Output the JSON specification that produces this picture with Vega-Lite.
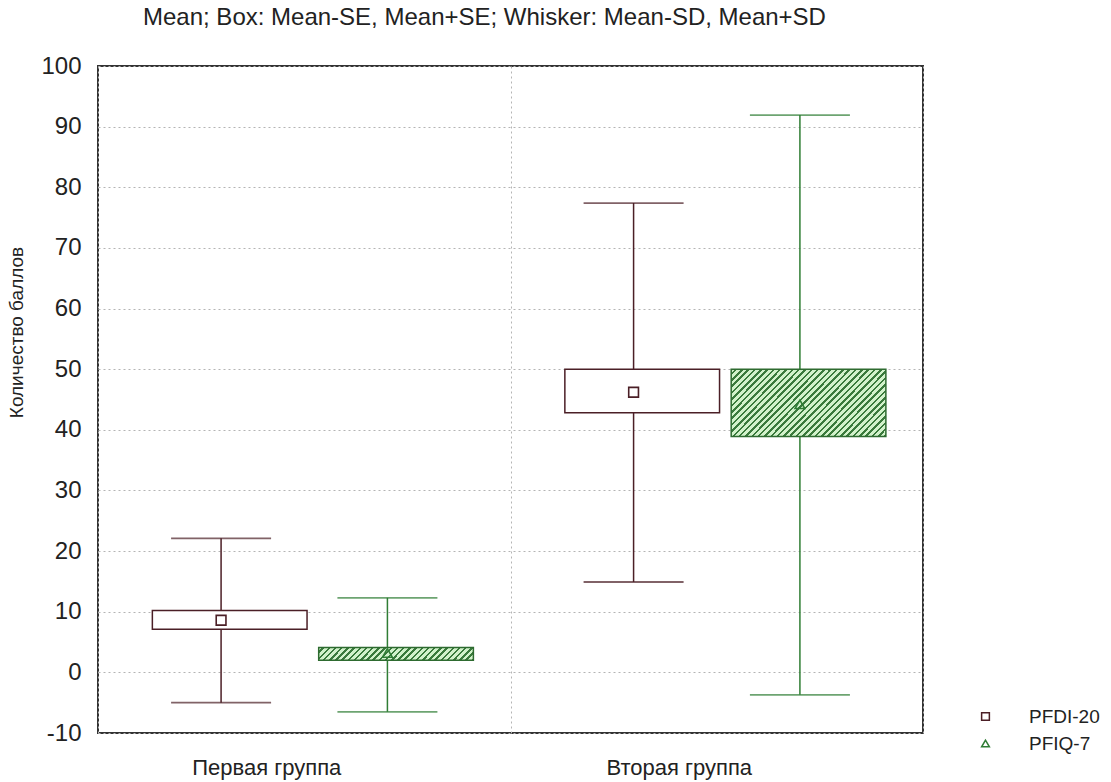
{
  "$schema": "https://vega.github.io/schema/vega-lite/v6.json",
  "width": 825,
  "height": 667,
  "autosize": {"type": "none"},
  "padding": {"left": 98, "top": 66, "right": 188, "bottom": 49},
  "background": "white",
  "config": {
    "font": "Liberation Sans",
    "view": {"stroke": "#333333", "strokeWidth": 2},
    "axis": {"labelColor": "#222222", "titleColor": "#222222", "labelFont": "Liberation Sans", "titleFont": "Liberation Sans"}
  },
  "title": {
    "text": "Mean; Box: Mean-SE, Mean+SE; Whisker: Mean-SD, Mean+SD",
    "anchor": "start",
    "frame": "group",
    "dx": 45,
    "offset": 24,
    "fontSize": 24,
    "fontWeight": "normal",
    "color": "#222222"
  },
  "data": {
    "values": [
      {"group": "Первая группа", "series": "PFDI-20", "mean": 8.6, "se_lo": 7.1, "se_hi": 10.2, "sd_lo": -5.0, "sd_hi": 22.1},
      {"group": "Первая группа", "series": "PFIQ-7", "mean": 3.2, "se_lo": 2.0, "se_hi": 4.1, "sd_lo": -6.5, "sd_hi": 12.3},
      {"group": "Вторая группа", "series": "PFDI-20", "mean": 46.2, "se_lo": 42.8, "se_hi": 50.0, "sd_lo": 14.9, "sd_hi": 77.4},
      {"group": "Вторая группа", "series": "PFIQ-7", "mean": 44.2, "se_lo": 38.9, "se_hi": 50.0, "sd_lo": -3.7, "sd_hi": 91.9}
    ]
  },
  "encoding": {
    "x": {
      "field": "group",
      "type": "nominal",
      "sort": ["Первая группа", "Вторая группа"],
      "scale": {"paddingInner": 0, "paddingOuter": 0},
      "axis": {
        "title": null,
        "labelAngle": 0,
        "labelFontSize": 22,
        "labelPadding": 24,
        "labelOffset": -38,
        "domain": false,
        "ticks": false,
        "grid": true,
        "tickBand": "extent",
        "gridColor": "#b4b4b4",
        "gridDash": [2, 3],
        "gridWidth": 1
      }
    },
    "xOffset": {
      "field": "series",
      "type": "nominal",
      "scale": {"domain": ["PFDI-20", "PFIQ-7"], "paddingInner": 0, "paddingOuter": 0.24}
    }
  },
  "layer": [
    {
      "mark": {"type": "rule", "strokeWidth": 1.5},
      "encoding": {
        "y": {
          "field": "sd_lo",
          "type": "quantitative",
          "scale": {"domain": [-10, 100], "nice": false, "zero": false},
          "axis": {
            "values": [-10, 0, 10, 20, 30, 40, 50, 60, 70, 80, 90, 100],
            "labelExpr": "'' + datum.value",
            "title": "Количество баллов",
            "titleFontSize": 19,
            "titleFontWeight": "normal",
            "titleAnchor": "middle",
            "titleY": 266,
            "titleX": -72,
            "labelFontSize": 24,
            "labelPadding": 17,
            "domain": false,
            "ticks": false,
            "grid": true,
            "gridColor": "#b4b4b4",
            "gridDash": [2, 3],
            "gridWidth": 1
          }
        },
        "y2": {"field": "sd_hi"},
        "color": {
          "field": "series",
          "type": "nominal",
          "scale": {"domain": ["PFIQ-7", "PFDI-20"], "range": ["#2f7d34", "#4b1f26"]},
          "legend": null
        }
      }
    },
    {
      "mark": {"type": "tick", "size": 100, "thickness": 1.8},
      "encoding": {
        "y": {"field": "sd_lo", "type": "quantitative"},
        "color": {"field": "series", "type": "nominal", "legend": null}
      }
    },
    {
      "mark": {"type": "tick", "size": 100, "thickness": 1.8},
      "encoding": {
        "y": {"field": "sd_hi", "type": "quantitative"},
        "color": {"field": "series", "type": "nominal", "legend": null}
      }
    },
    {
      "transform": [{"filter": "datum.series === 'PFDI-20'"}],
      "mark": {"type": "bar", "width": {"band": 0.93}, "fill": "white", "stroke": "#4b1f26", "strokeWidth": 1.5},
      "encoding": {
        "y": {"field": "se_lo", "type": "quantitative"},
        "y2": {"field": "se_hi"}
      }
    },
    {
      "transform": [{"filter": "datum.series === 'PFIQ-7' && datum.group === 'Первая группа'"}],
      "mark": {
        "type": "bar",
        "width": {"band": 0.93},
        "stroke": "#2e6b30",
        "strokeWidth": 1.5,
        "fill": {
          "gradient": "linear",
          "x1": 0, "y1": 0, "x2": 1.0747, "y2": 0.0881,
          "stops": [
            {"offset": 0, "color": "#d2f2cb"}, {"offset": 0.0222, "color": "#d2f2cb"}, {"offset": 0.0222, "color": "#3a7a3c"}, {"offset": 0.0370, "color": "#3a7a3c"},
            {"offset": 0.0370, "color": "#d2f2cb"}, {"offset": 0.0593, "color": "#d2f2cb"}, {"offset": 0.0593, "color": "#3a7a3c"}, {"offset": 0.0741, "color": "#3a7a3c"},
            {"offset": 0.0741, "color": "#d2f2cb"}, {"offset": 0.0963, "color": "#d2f2cb"}, {"offset": 0.0963, "color": "#3a7a3c"}, {"offset": 0.1111, "color": "#3a7a3c"},
            {"offset": 0.1111, "color": "#d2f2cb"}, {"offset": 0.1333, "color": "#d2f2cb"}, {"offset": 0.1333, "color": "#3a7a3c"}, {"offset": 0.1481, "color": "#3a7a3c"},
            {"offset": 0.1481, "color": "#d2f2cb"}, {"offset": 0.1704, "color": "#d2f2cb"}, {"offset": 0.1704, "color": "#3a7a3c"}, {"offset": 0.1852, "color": "#3a7a3c"},
            {"offset": 0.1852, "color": "#d2f2cb"}, {"offset": 0.2074, "color": "#d2f2cb"}, {"offset": 0.2074, "color": "#3a7a3c"}, {"offset": 0.2222, "color": "#3a7a3c"},
            {"offset": 0.2222, "color": "#d2f2cb"}, {"offset": 0.2444, "color": "#d2f2cb"}, {"offset": 0.2444, "color": "#3a7a3c"}, {"offset": 0.2593, "color": "#3a7a3c"},
            {"offset": 0.2593, "color": "#d2f2cb"}, {"offset": 0.2815, "color": "#d2f2cb"}, {"offset": 0.2815, "color": "#3a7a3c"}, {"offset": 0.2963, "color": "#3a7a3c"},
            {"offset": 0.2963, "color": "#d2f2cb"}, {"offset": 0.3185, "color": "#d2f2cb"}, {"offset": 0.3185, "color": "#3a7a3c"}, {"offset": 0.3333, "color": "#3a7a3c"},
            {"offset": 0.3333, "color": "#d2f2cb"}, {"offset": 0.3556, "color": "#d2f2cb"}, {"offset": 0.3556, "color": "#3a7a3c"}, {"offset": 0.3704, "color": "#3a7a3c"},
            {"offset": 0.3704, "color": "#d2f2cb"}, {"offset": 0.3926, "color": "#d2f2cb"}, {"offset": 0.3926, "color": "#3a7a3c"}, {"offset": 0.4074, "color": "#3a7a3c"},
            {"offset": 0.4074, "color": "#d2f2cb"}, {"offset": 0.4296, "color": "#d2f2cb"}, {"offset": 0.4296, "color": "#3a7a3c"}, {"offset": 0.4444, "color": "#3a7a3c"},
            {"offset": 0.4444, "color": "#d2f2cb"}, {"offset": 0.4667, "color": "#d2f2cb"}, {"offset": 0.4667, "color": "#3a7a3c"}, {"offset": 0.4815, "color": "#3a7a3c"},
            {"offset": 0.4815, "color": "#d2f2cb"}, {"offset": 0.5037, "color": "#d2f2cb"}, {"offset": 0.5037, "color": "#3a7a3c"}, {"offset": 0.5185, "color": "#3a7a3c"},
            {"offset": 0.5185, "color": "#d2f2cb"}, {"offset": 0.5407, "color": "#d2f2cb"}, {"offset": 0.5407, "color": "#3a7a3c"}, {"offset": 0.5556, "color": "#3a7a3c"},
            {"offset": 0.5556, "color": "#d2f2cb"}, {"offset": 0.5778, "color": "#d2f2cb"}, {"offset": 0.5778, "color": "#3a7a3c"}, {"offset": 0.5926, "color": "#3a7a3c"},
            {"offset": 0.5926, "color": "#d2f2cb"}, {"offset": 0.6148, "color": "#d2f2cb"}, {"offset": 0.6148, "color": "#3a7a3c"}, {"offset": 0.6296, "color": "#3a7a3c"},
            {"offset": 0.6296, "color": "#d2f2cb"}, {"offset": 0.6519, "color": "#d2f2cb"}, {"offset": 0.6519, "color": "#3a7a3c"}, {"offset": 0.6667, "color": "#3a7a3c"},
            {"offset": 0.6667, "color": "#d2f2cb"}, {"offset": 0.6889, "color": "#d2f2cb"}, {"offset": 0.6889, "color": "#3a7a3c"}, {"offset": 0.7037, "color": "#3a7a3c"},
            {"offset": 0.7037, "color": "#d2f2cb"}, {"offset": 0.7259, "color": "#d2f2cb"}, {"offset": 0.7259, "color": "#3a7a3c"}, {"offset": 0.7407, "color": "#3a7a3c"},
            {"offset": 0.7407, "color": "#d2f2cb"}, {"offset": 0.7630, "color": "#d2f2cb"}, {"offset": 0.7630, "color": "#3a7a3c"}, {"offset": 0.7778, "color": "#3a7a3c"},
            {"offset": 0.7778, "color": "#d2f2cb"}, {"offset": 0.8000, "color": "#d2f2cb"}, {"offset": 0.8000, "color": "#3a7a3c"}, {"offset": 0.8148, "color": "#3a7a3c"},
            {"offset": 0.8148, "color": "#d2f2cb"}, {"offset": 0.8370, "color": "#d2f2cb"}, {"offset": 0.8370, "color": "#3a7a3c"}, {"offset": 0.8519, "color": "#3a7a3c"},
            {"offset": 0.8519, "color": "#d2f2cb"}, {"offset": 0.8741, "color": "#d2f2cb"}, {"offset": 0.8741, "color": "#3a7a3c"}, {"offset": 0.8889, "color": "#3a7a3c"},
            {"offset": 0.8889, "color": "#d2f2cb"}, {"offset": 0.9111, "color": "#d2f2cb"}, {"offset": 0.9111, "color": "#3a7a3c"}, {"offset": 0.9259, "color": "#3a7a3c"},
            {"offset": 0.9259, "color": "#d2f2cb"}, {"offset": 0.9481, "color": "#d2f2cb"}, {"offset": 0.9481, "color": "#3a7a3c"}, {"offset": 0.9630, "color": "#3a7a3c"},
            {"offset": 0.9630, "color": "#d2f2cb"}, {"offset": 0.9852, "color": "#d2f2cb"}, {"offset": 0.9852, "color": "#3a7a3c"}, {"offset": 1, "color": "#3a7a3c"}
          ]
        }
      },
      "encoding": {
        "y": {"field": "se_lo", "type": "quantitative"},
        "y2": {"field": "se_hi"}
      }
    },
    {
      "transform": [{"filter": "datum.series === 'PFIQ-7' && datum.group === 'Вторая группа'"}],
      "mark": {
        "type": "bar",
        "width": {"band": 0.93},
        "stroke": "#2e6b30",
        "strokeWidth": 1.5,
        "fill": {
          "gradient": "linear",
          "x1": 0, "y1": 0, "x2": 1.2069, "y2": 0.5193,
          "stops": [
            {"offset": 0, "color": "#d2f2cb"}, {"offset": 0.0171, "color": "#d2f2cb"}, {"offset": 0.0171, "color": "#3a7a3c"}, {"offset": 0.0286, "color": "#3a7a3c"},
            {"offset": 0.0286, "color": "#d2f2cb"}, {"offset": 0.0457, "color": "#d2f2cb"}, {"offset": 0.0457, "color": "#3a7a3c"}, {"offset": 0.0571, "color": "#3a7a3c"},
            {"offset": 0.0571, "color": "#d2f2cb"}, {"offset": 0.0743, "color": "#d2f2cb"}, {"offset": 0.0743, "color": "#3a7a3c"}, {"offset": 0.0857, "color": "#3a7a3c"},
            {"offset": 0.0857, "color": "#d2f2cb"}, {"offset": 0.1029, "color": "#d2f2cb"}, {"offset": 0.1029, "color": "#3a7a3c"}, {"offset": 0.1143, "color": "#3a7a3c"},
            {"offset": 0.1143, "color": "#d2f2cb"}, {"offset": 0.1314, "color": "#d2f2cb"}, {"offset": 0.1314, "color": "#3a7a3c"}, {"offset": 0.1429, "color": "#3a7a3c"},
            {"offset": 0.1429, "color": "#d2f2cb"}, {"offset": 0.1600, "color": "#d2f2cb"}, {"offset": 0.1600, "color": "#3a7a3c"}, {"offset": 0.1714, "color": "#3a7a3c"},
            {"offset": 0.1714, "color": "#d2f2cb"}, {"offset": 0.1886, "color": "#d2f2cb"}, {"offset": 0.1886, "color": "#3a7a3c"}, {"offset": 0.2000, "color": "#3a7a3c"},
            {"offset": 0.2000, "color": "#d2f2cb"}, {"offset": 0.2171, "color": "#d2f2cb"}, {"offset": 0.2171, "color": "#3a7a3c"}, {"offset": 0.2286, "color": "#3a7a3c"},
            {"offset": 0.2286, "color": "#d2f2cb"}, {"offset": 0.2457, "color": "#d2f2cb"}, {"offset": 0.2457, "color": "#3a7a3c"}, {"offset": 0.2571, "color": "#3a7a3c"},
            {"offset": 0.2571, "color": "#d2f2cb"}, {"offset": 0.2743, "color": "#d2f2cb"}, {"offset": 0.2743, "color": "#3a7a3c"}, {"offset": 0.2857, "color": "#3a7a3c"},
            {"offset": 0.2857, "color": "#d2f2cb"}, {"offset": 0.3029, "color": "#d2f2cb"}, {"offset": 0.3029, "color": "#3a7a3c"}, {"offset": 0.3143, "color": "#3a7a3c"},
            {"offset": 0.3143, "color": "#d2f2cb"}, {"offset": 0.3314, "color": "#d2f2cb"}, {"offset": 0.3314, "color": "#3a7a3c"}, {"offset": 0.3429, "color": "#3a7a3c"},
            {"offset": 0.3429, "color": "#d2f2cb"}, {"offset": 0.3600, "color": "#d2f2cb"}, {"offset": 0.3600, "color": "#3a7a3c"}, {"offset": 0.3714, "color": "#3a7a3c"},
            {"offset": 0.3714, "color": "#d2f2cb"}, {"offset": 0.3886, "color": "#d2f2cb"}, {"offset": 0.3886, "color": "#3a7a3c"}, {"offset": 0.4000, "color": "#3a7a3c"},
            {"offset": 0.4000, "color": "#d2f2cb"}, {"offset": 0.4171, "color": "#d2f2cb"}, {"offset": 0.4171, "color": "#3a7a3c"}, {"offset": 0.4286, "color": "#3a7a3c"},
            {"offset": 0.4286, "color": "#d2f2cb"}, {"offset": 0.4457, "color": "#d2f2cb"}, {"offset": 0.4457, "color": "#3a7a3c"}, {"offset": 0.4571, "color": "#3a7a3c"},
            {"offset": 0.4571, "color": "#d2f2cb"}, {"offset": 0.4743, "color": "#d2f2cb"}, {"offset": 0.4743, "color": "#3a7a3c"}, {"offset": 0.4857, "color": "#3a7a3c"},
            {"offset": 0.4857, "color": "#d2f2cb"}, {"offset": 0.5029, "color": "#d2f2cb"}, {"offset": 0.5029, "color": "#3a7a3c"}, {"offset": 0.5143, "color": "#3a7a3c"},
            {"offset": 0.5143, "color": "#d2f2cb"}, {"offset": 0.5314, "color": "#d2f2cb"}, {"offset": 0.5314, "color": "#3a7a3c"}, {"offset": 0.5429, "color": "#3a7a3c"},
            {"offset": 0.5429, "color": "#d2f2cb"}, {"offset": 0.5600, "color": "#d2f2cb"}, {"offset": 0.5600, "color": "#3a7a3c"}, {"offset": 0.5714, "color": "#3a7a3c"},
            {"offset": 0.5714, "color": "#d2f2cb"}, {"offset": 0.5886, "color": "#d2f2cb"}, {"offset": 0.5886, "color": "#3a7a3c"}, {"offset": 0.6000, "color": "#3a7a3c"},
            {"offset": 0.6000, "color": "#d2f2cb"}, {"offset": 0.6171, "color": "#d2f2cb"}, {"offset": 0.6171, "color": "#3a7a3c"}, {"offset": 0.6286, "color": "#3a7a3c"},
            {"offset": 0.6286, "color": "#d2f2cb"}, {"offset": 0.6457, "color": "#d2f2cb"}, {"offset": 0.6457, "color": "#3a7a3c"}, {"offset": 0.6571, "color": "#3a7a3c"},
            {"offset": 0.6571, "color": "#d2f2cb"}, {"offset": 0.6743, "color": "#d2f2cb"}, {"offset": 0.6743, "color": "#3a7a3c"}, {"offset": 0.6857, "color": "#3a7a3c"},
            {"offset": 0.6857, "color": "#d2f2cb"}, {"offset": 0.7029, "color": "#d2f2cb"}, {"offset": 0.7029, "color": "#3a7a3c"}, {"offset": 0.7143, "color": "#3a7a3c"},
            {"offset": 0.7143, "color": "#d2f2cb"}, {"offset": 0.7314, "color": "#d2f2cb"}, {"offset": 0.7314, "color": "#3a7a3c"}, {"offset": 0.7429, "color": "#3a7a3c"},
            {"offset": 0.7429, "color": "#d2f2cb"}, {"offset": 0.7600, "color": "#d2f2cb"}, {"offset": 0.7600, "color": "#3a7a3c"}, {"offset": 0.7714, "color": "#3a7a3c"},
            {"offset": 0.7714, "color": "#d2f2cb"}, {"offset": 0.7886, "color": "#d2f2cb"}, {"offset": 0.7886, "color": "#3a7a3c"}, {"offset": 0.8000, "color": "#3a7a3c"},
            {"offset": 0.8000, "color": "#d2f2cb"}, {"offset": 0.8171, "color": "#d2f2cb"}, {"offset": 0.8171, "color": "#3a7a3c"}, {"offset": 0.8286, "color": "#3a7a3c"},
            {"offset": 0.8286, "color": "#d2f2cb"}, {"offset": 0.8457, "color": "#d2f2cb"}, {"offset": 0.8457, "color": "#3a7a3c"}, {"offset": 0.8571, "color": "#3a7a3c"},
            {"offset": 0.8571, "color": "#d2f2cb"}, {"offset": 0.8743, "color": "#d2f2cb"}, {"offset": 0.8743, "color": "#3a7a3c"}, {"offset": 0.8857, "color": "#3a7a3c"},
            {"offset": 0.8857, "color": "#d2f2cb"}, {"offset": 0.9029, "color": "#d2f2cb"}, {"offset": 0.9029, "color": "#3a7a3c"}, {"offset": 0.9143, "color": "#3a7a3c"},
            {"offset": 0.9143, "color": "#d2f2cb"}, {"offset": 0.9314, "color": "#d2f2cb"}, {"offset": 0.9314, "color": "#3a7a3c"}, {"offset": 0.9429, "color": "#3a7a3c"},
            {"offset": 0.9429, "color": "#d2f2cb"}, {"offset": 0.9600, "color": "#d2f2cb"}, {"offset": 0.9600, "color": "#3a7a3c"}, {"offset": 0.9714, "color": "#3a7a3c"},
            {"offset": 0.9714, "color": "#d2f2cb"}, {"offset": 0.9886, "color": "#d2f2cb"}, {"offset": 0.9886, "color": "#3a7a3c"}, {"offset": 1, "color": "#3a7a3c"}
          ]
        }
      },
      "encoding": {
        "y": {"field": "se_lo", "type": "quantitative"},
        "y2": {"field": "se_hi"}
      }
    },
    {
      "mark": {"type": "point", "filled": false, "strokeWidth": 1.6, "opacity": 1},
      "encoding": {
        "y": {"field": "mean", "type": "quantitative"},
        "stroke": {
          "field": "series",
          "type": "nominal",
          "scale": {"domain": ["PFDI-20", "PFIQ-7"], "range": ["#4b1f26", "#2f7d34"]},
          "legend": {
            "title": null,
            "orient": "none",
            "legendX": 878,
            "legendY": 641,
            "labelFontSize": 19,
            "labelColor": "#222222",
            "labelOffset": 34,
            "symbolSize": 60,
            "symbolStrokeWidth": 1.5,
            "rowPadding": 7
          }
        },
        "shape": {
          "field": "series",
          "type": "nominal",
          "scale": {"domain": ["PFDI-20", "PFIQ-7"], "range": ["square", "triangle-up"]}
        },
        "size": {"value": 95}
      }
    }
  ]
}
